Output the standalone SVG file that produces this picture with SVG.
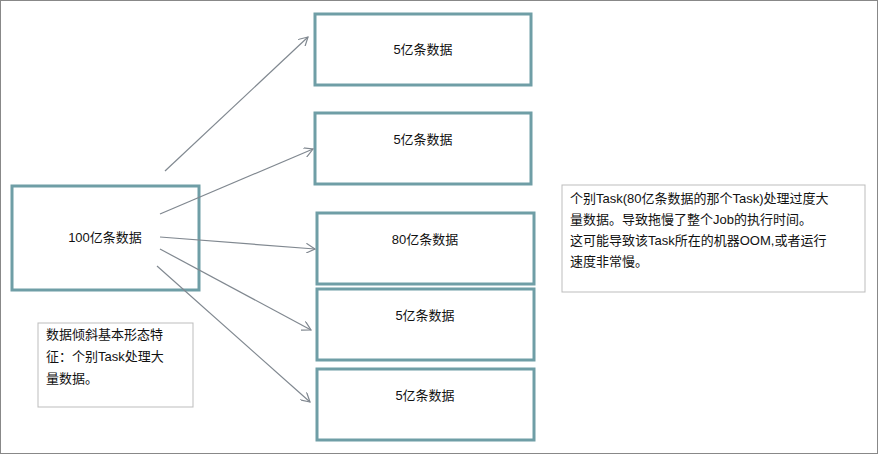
<svg xmlns="http://www.w3.org/2000/svg" width="878" height="454" viewBox="0 0 878 454">
<style>
.box{fill:#fff;stroke:#6f9ea6;stroke-width:3}
.note{fill:#fff;stroke:#bdbdbd;stroke-width:1}
text{font-family:"Liberation Sans","Noto Sans CJK SC",sans-serif;font-size:13px;fill:#111}
.c{text-anchor:middle}
.e{stroke:#808890;stroke-width:1.2;fill:none;marker-end:url(#ah)}
</style>
<defs><marker id="ah" viewBox="0 0 10 10" refX="9" refY="5" markerWidth="10" markerHeight="10" orient="auto" markerUnits="userSpaceOnUse"><path d="M0,0 L9,5 L0,10" fill="none" stroke="#808890" stroke-width="1.2"/></marker></defs>
<rect x="0.5" y="0.5" width="877" height="453" fill="#fff" stroke="#888"/>
<g id="src"><rect class="box" x="12" y="186" width="187" height="104"/><text class="c" x="105" y="242">100亿条数据</text></g>
<g id="t1"><rect class="box" x="315" y="14" width="216" height="71"/><text class="c" x="423" y="54">5亿条数据</text></g>
<g id="t2"><rect class="box" x="315" y="113" width="216" height="71"/><text class="c" x="423" y="144">5亿条数据</text></g>
<g id="t3"><rect class="box" x="317" y="213" width="217" height="71"/><text class="c" x="425" y="244">80亿条数据</text></g>
<g id="t4"><rect class="box" x="317" y="289" width="217" height="71"/><text class="c" x="425" y="320">5亿条数据</text></g>
<g id="t5"><rect class="box" x="317" y="369" width="217" height="71"/><text class="c" x="425" y="400">5亿条数据</text></g>
<g id="n1"><rect class="note" x="38" y="323" width="155" height="84"/><text x="46" y="339">数据倾斜基本形态特</text><text x="46" y="361">征：个别Task处理大</text><text x="46" y="383">量数据。</text></g>
<g id="n2"><rect class="note" x="562" y="185" width="303" height="107"/><text x="570" y="203">个别Task(80亿条数据的那个Task)处理过度大</text><text x="570" y="224">量数据。导致拖慢了整个Job的执行时间。</text><text x="570" y="245">这可能导致该Task所在的机器OOM,或者运行</text><text x="570" y="266">速度非常慢。</text></g>
<g id="edges">
<path class="e" d="M165,171 L308,37"/>
<path class="e" d="M160,214 L313,149"/>
<path class="e" d="M160,237 L315,249"/>
<path class="e" d="M160,249 L311,330"/>
<path class="e" d="M157,266 L310,402"/>
</g>
</svg>
